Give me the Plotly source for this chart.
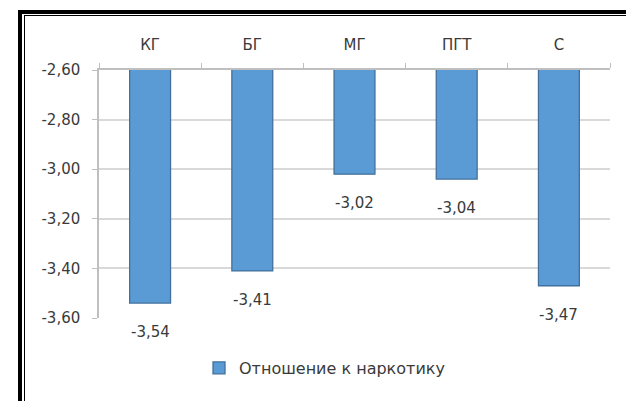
import plotly.graph_objects as go

categories = ["КГ", "БГ", "МГ", "ПГТ", "С"]
values = [-3.54, -3.41, -3.02, -3.04, -3.47]
series_name = "Отношение к наркотику"
y_ticks = [-2.6, -2.8, -3.0, -3.2, -3.4, -3.6]
y_tick_labels = ["-2,60", "-2,80", "-3,00", "-3,20", "-3,40", "-3,60"]

W, H = 626, 401
L, R, T, B = 99, 16, 70, 83
pw = W - L - R
ph = H - T - B

def px_x(p):
    return (p - L) / pw

def px_y(p):
    return 1 - (p - T) / ph

font_fam = "DejaVu Sans"
txt_col = "#3a3a3a"

fig = go.Figure()
fig.add_trace(go.Bar(
    x=categories, y=values, name=series_name,
    marker=dict(color="#5B9BD5", line=dict(color="#41719C", width=1.3)),
    showlegend=True,
))

for c, v in zip(categories, values):
    fig.add_annotation(x=c, y=v, text=f"{v:.2f}".replace(".", ","),
                       showarrow=False, yshift=-29, yanchor="middle",
                       font=dict(family=font_fam, size=15, color=txt_col))

# frame: left and top edges only (double line)
for xx, yy, wdt in [(20, 12, 4), (24.5, 15.5, 1)]:
    fig.add_shape(type="line", xref="paper", yref="paper",
                  x0=px_x(xx), x1=px_x(xx), y0=px_y(yy - wdt / 2), y1=px_y(H + 5),
                  line=dict(color="black", width=wdt), layer="above")
    fig.add_shape(type="line", xref="paper", yref="paper",
                  x0=px_x(xx - wdt / 2), x1=px_x(W + 5), y0=px_y(yy), y1=px_y(yy),
                  line=dict(color="black", width=wdt), layer="above")

fig.update_layout(
    width=W, height=H,
    margin=dict(l=L, r=R, t=T, b=B, pad=0),
    paper_bgcolor="white", plot_bgcolor="white",
    separators=", ",
    bargap=0.6,
    font=dict(family=font_fam, size=15, color=txt_col),
    xaxis=dict(side="top", showline=True, linecolor="#BFBFBF", linewidth=1.5,
               ticks="outside", tickson="boundaries", ticklen=5, tickcolor="#BFBFBF",
               showgrid=False, ticklabelstandoff=12,
               tickfont=dict(size=15, color=txt_col)),
    yaxis=dict(range=[-3.6, -2.6], tickvals=y_ticks, ticktext=y_tick_labels,
               showline=True, linecolor="#BFBFBF", linewidth=1.5,
               ticks="outside", ticklen=5, tickcolor="#BFBFBF",
               showgrid=True, gridcolor="#D9D9D9", gridwidth=1.5,
               zeroline=False, ticklabelstandoff=9,
               tickfont=dict(size=15, color=txt_col)),
    legend=dict(orientation="h", x=px_x(199), xanchor="left", y=px_y(368), yanchor="middle",
                font=dict(size=16, color=txt_col), itemwidth=30, bgcolor="rgba(0,0,0,0)"),
)

fig.write_html("out.html", config={"displayModeBar": False},
               post_script="document.body.style.margin='0';document.body.style.overflow='hidden';")
